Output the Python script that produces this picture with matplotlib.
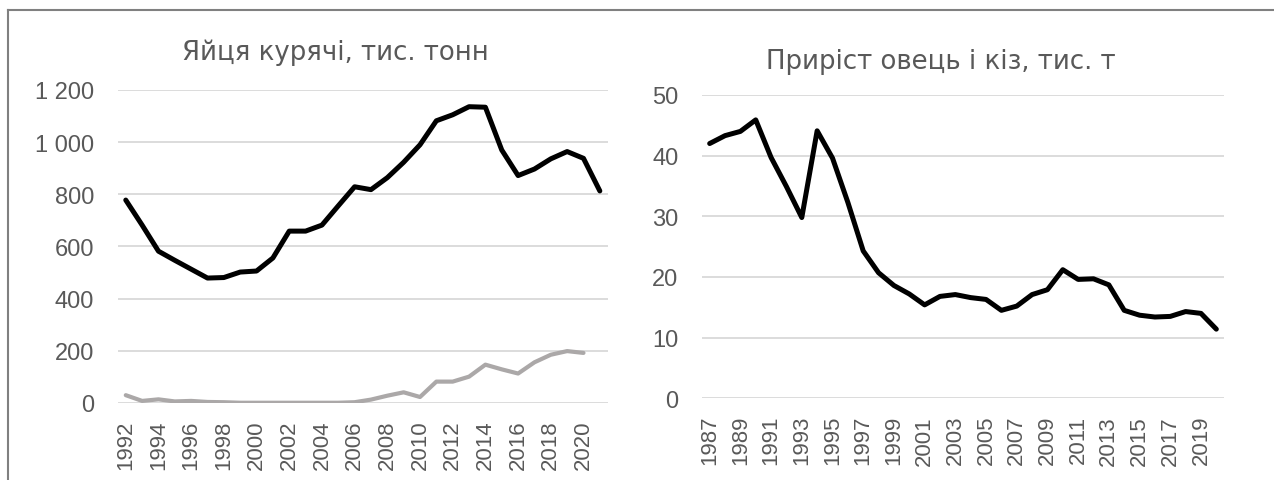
import matplotlib
matplotlib.use("Agg")
import matplotlib.pyplot as plt
from matplotlib.lines import Line2D
from matplotlib.ticker import FuncFormatter

plt.rcParams['font.family'] = ['Liberation Sans', 'DejaVu Sans']

# ---- Data: left chart (eggs, thousand tonnes) ----
egg_years = list(range(1992, 2022))
egg_total = [778, 682, 582, 547, 513, 479, 481, 502, 506, 556,
             659, 659, 682, 756, 829, 818, 864, 923, 990, 1082,
             1105, 1136, 1134, 970, 872, 897, 936, 964, 938, 813]
egg_years_gray = list(range(1992, 2021))
egg_other = [30, 8, 14, 6, 8, 4, 3, 1, 1, 1,
             1, 1, 1, 1, 3, 13, 28, 41, 23, 82,
             82, 101, 147, 129, 113, 156, 185, 199, 192]

# ---- Data: right chart (sheep and goats growth, thousand t) ----
sheep_years = list(range(1987, 2021))
sheep_vals = [42.0, 43.3, 44.0, 45.9, 39.7, 34.9, 29.8, 44.1, 39.6, 32.3,
              24.3, 20.7, 18.6, 17.2, 15.4, 16.8, 17.1, 16.6, 16.3, 14.5,
              15.2, 17.1, 17.9, 21.2, 19.6, 19.7, 18.7, 14.5, 13.7, 13.4,
              13.5, 14.3, 14.0, 11.4]

left_title = "Яйця курячі, тис. тонн"
right_title = "Приріст овець і кіз, тис. т"

TXT = '#595959'
GRID = '#D9D9D9'

W, H = 1274, 481
fig = plt.figure(figsize=(W / 100, H / 100), dpi=100)

def fx(px):
    return px / W

def fy(py):
    return 1 - py / H

def style(ax, ylim, yticks, fmt, years, step, ysize=17, xsize=16):
    n = len(years)
    ax.set_xlim(-0.5, n - 0.5)
    ax.set_ylim(*ylim)
    ax.set_yticks(yticks)
    ax.yaxis.set_major_formatter(FuncFormatter(fmt))
    idx = list(range(0, n, step))
    ax.set_xticks(idx)
    ax.set_xticklabels([str(years[i]) for i in idx], rotation=90)
    for s in ax.spines.values():
        s.set_visible(False)
    ax.grid(axis='y', color=GRID, linewidth=1.3)
    ax.set_axisbelow(True)
    ax.tick_params(axis='both', length=0, colors=TXT)
    ax.tick_params(axis='y', labelsize=ysize, pad=17)
    ax.tick_params(axis='x', labelsize=xsize, pad=12)

def thousands(v, pos):
    return f"{int(v):,}".replace(",", " ")

# Left axes
axL = fig.add_axes([fx(117.6), fy(404), fx(608 - 117.6), (404 - 91) / H])
xl = list(range(len(egg_years)))
axL.plot(list(range(len(egg_years_gray))), egg_other, color='#ABA8A8', lw=3.0,
         solid_joinstyle='round', solid_capstyle='round')
axL.plot(xl, egg_total, color='black', lw=3.6,
         solid_joinstyle='round', solid_capstyle='round')
style(axL, (0, 1200), [0, 200, 400, 600, 800, 1000, 1200], thousands, egg_years, 2)

# Right axes
axR = fig.add_axes([fx(702), fy(399.3), fx(1224 - 702), (399.3 - 96) / H])
axR.plot(list(range(len(sheep_years))), sheep_vals, color='black', lw=3.6,
         solid_joinstyle='round', solid_capstyle='round')
style(axR, (0, 50), [0, 10, 20, 30, 40, 50], lambda v, p: f"{int(v)}", sheep_years, 2)

# Titles
fig.text(fx(335), fy(60), left_title, ha='center', va='baseline', fontsize=18.7,
         color=TXT, family=['DejaVu Sans'])
fig.text(fx(941), fy(69.3), right_title, ha='center', va='baseline', fontsize=18.7,
         color=TXT, family=['DejaVu Sans'])

# Frame lines (top and left)
fig.add_artist(Line2D([fx(8), 1.0], [fy(11), fy(11)], color='#808080', lw=1.5))
fig.add_artist(Line2D([fx(8), fx(8)], [fy(11), 0.0], color='#808080', lw=1.5))

fig.savefig("out.png", dpi=100, facecolor='white')
